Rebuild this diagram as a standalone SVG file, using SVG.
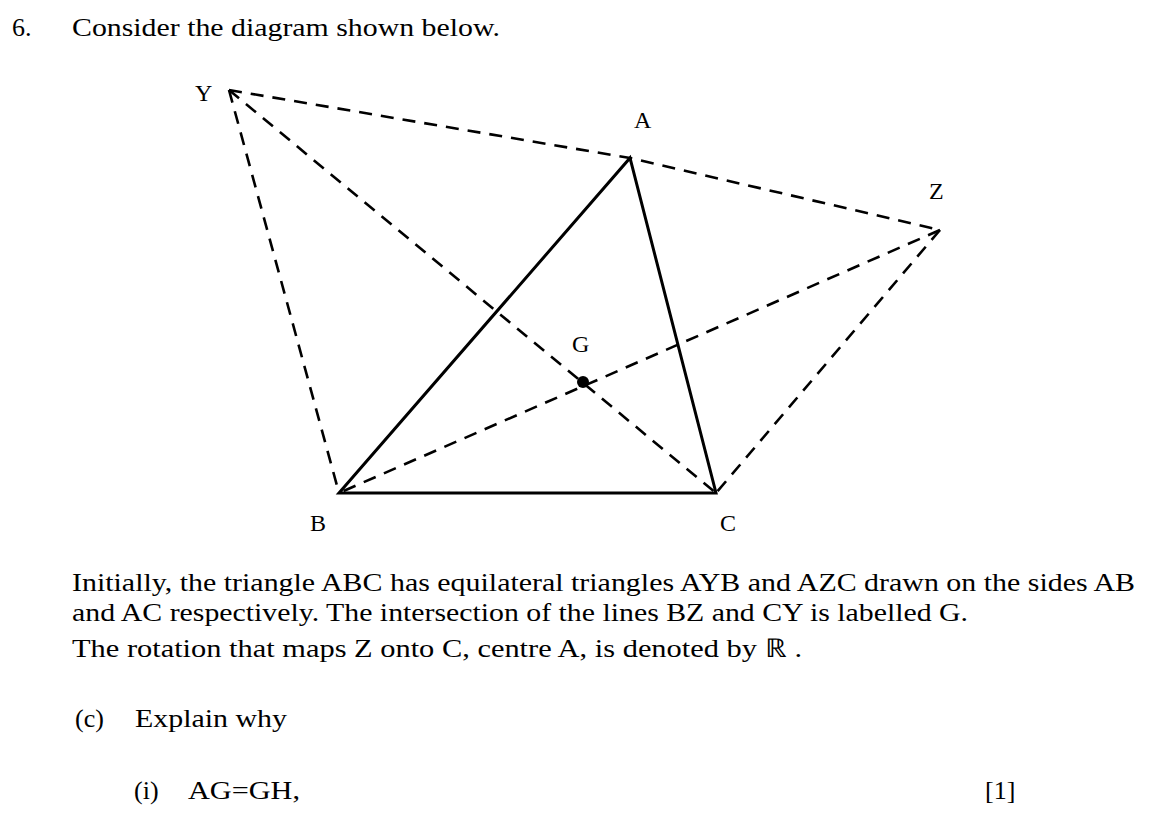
<svg xmlns="http://www.w3.org/2000/svg" width="1154" height="835" viewBox="0 0 1154 835">
<style>
text{font-family:"Liberation Serif",serif;font-size:26px;fill:#000}
.l{font-size:24px}
.s{stroke:#000;stroke-width:3;fill:none}
.d{stroke:#000;stroke-width:2.6;fill:none;stroke-dasharray:13 9}
</style>
<rect width="1154" height="835" fill="#fff"/>
<text x="12" y="36">6.</text>
<text x="72" y="36" textLength="428" lengthAdjust="spacingAndGlyphs">Consider the diagram shown below.</text>
<g id="connectors">
<path class="d" d="M229,90 L630,158 L940,230"/>
<path class="d" d="M229,90 L339,493"/>
<path class="d" d="M229,90 L716,493"/>
<path class="d" d="M940,230 L339,493"/>
<path class="d" d="M940,230 L716,493"/>
<path class="s" d="M339,493 L630,158 L716,493 Z"/>
</g>
<g id="G"><circle cx="583" cy="382" r="6" fill="#000"/><text class="l" x="572" y="352">G</text></g>
<g id="Y"><text class="l" x="195" y="101">Y</text></g>
<g id="A"><text class="l" x="634" y="128">A</text></g>
<g id="Z"><text class="l" x="929" y="199">Z</text></g>
<g id="B"><text class="l" x="310" y="531">B</text></g>
<g id="C"><text class="l" x="720" y="531">C</text></g>
<text x="72" y="591" textLength="1063" lengthAdjust="spacingAndGlyphs">Initially, the triangle ABC has equilateral triangles AYB and AZC drawn on the sides AB</text>
<text x="72" y="621" textLength="896" lengthAdjust="spacingAndGlyphs">and AC respectively. The intersection of the lines BZ and CY is labelled G.</text>
<text x="72" y="657" textLength="730" lengthAdjust="spacingAndGlyphs">The rotation that maps Z onto C, centre A, is denoted by ℝ .</text>
<text x="75" y="727">(c)</text>
<text x="135" y="727" textLength="152" lengthAdjust="spacingAndGlyphs">Explain why</text>
<text x="134" y="799">(i)</text>
<text x="188" y="799" textLength="112" lengthAdjust="spacingAndGlyphs">AG=GH,</text>
<text x="985" y="799">[1]</text>
</svg>
